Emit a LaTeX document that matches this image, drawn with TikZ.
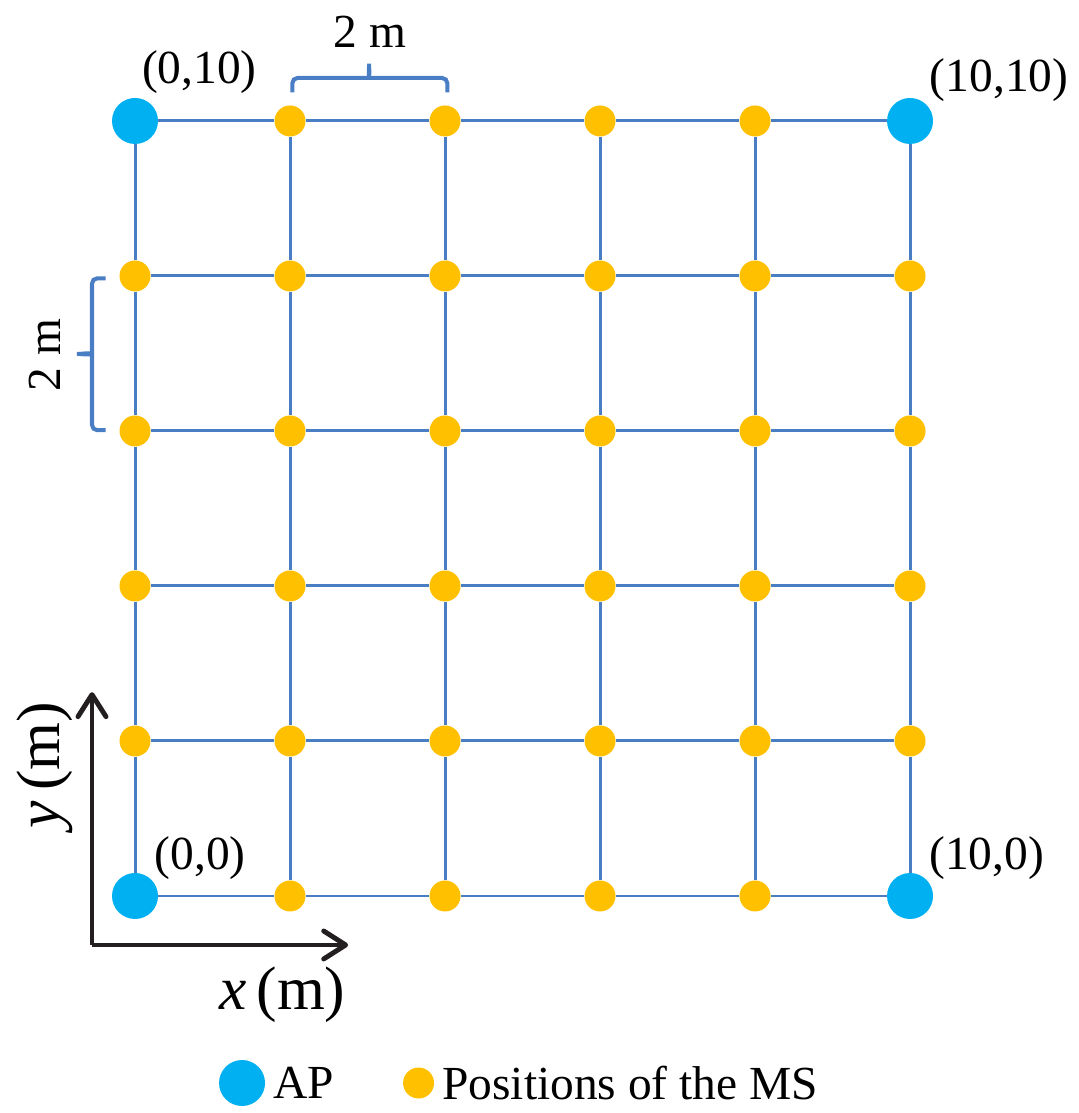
\documentclass[tikz,border=0pt]{standalone}
\usepackage{fontspec}
\setmainfont{Liberation Serif}
\usetikzlibrary{arrows.meta,positioning}
\definecolor{racskek}{HTML}{4A7EC4}
\definecolor{apkek}{HTML}{00B0F0}
\definecolor{mssarga}{HTML}{FFC000}
\definecolor{feketes}{HTML}{231F20}
\tikzset{
  apk/.style={circle,fill=apkek,inner sep=0pt,minimum size=9.2mm},
  msk/.style={circle,fill=mssarga,inner sep=0pt,minimum size=6.2mm},
  racs/.style={racskek,line width=1.7pt},
  kapocs/.style={racskek,line width=2.3pt,rounded corners=3pt},
  tengely/.style={feketes,line width=2.8pt,-{Straight Barb[length=4.4mm,width=5.6mm,round]}},
  cimke/.style={font=\fontsize{27}{32}\selectfont},
  nagy/.style={font=\fontsize{35}{40}\selectfont},
}

\begin{document}
\begin{tikzpicture}[x=1.55cm,y=1.55cm]
  \useasboundingbox (-1.742,-2.8) rectangle (12.168,11.561);
  \foreach \i in {0,...,5}{
    \foreach \j in {0,...,5}{
      \pgfmathtruncatemacro\sarok{and(or(\i==0,\i==5),or(\j==0,\j==5))}
      \ifnum\sarok=1 \def\fajta{apk}\else\def\fajta{msk}\fi
      \node[\fajta] (p\i\j) at (2*\i,2*\j) {};
    }
  }
  \foreach \i in {0,...,5}{
    \foreach \j [evaluate=\j as \k using int(\j+1)] in {0,...,4}{
      \draw[racs] (p\i\j) -- (p\i\k);
      \draw[racs] (p\j\i) -- (p\k\i);
    }
  }
  \node[cimke] (c05) at (0.83,10.63) {(0,10)};
  \node[cimke] (c55) at (11.15,10.53) {(10,10)};
  \node[cimke] (c00) at (0.84,0.49) {(0,0)};
  \node[cimke] (c50) at (10.99,0.49) {(10,0)};
  \draw[kapocs] (2.03,10.37) |- (2.94,10.555) to[out=0,in=-90] (3.02,10.78)
    to[out=-90,in=180] (3.1,10.555) -| (4.03,10.37);
  \node[cimke] (tav1) at (3.03,11.15) {2 m};
  \draw[kapocs] (-0.38,7.97) -| (-0.555,7.07) to[out=-90,in=0] (-0.79,6.994)
    to[out=0,in=90] (-0.555,6.92) |- (-0.38,6.01);
  \node[cimke,rotate=90] (tav2) at (-1.16,6.98) {2 m};
  \coordinate (o) at (-0.555,-0.632);
  \coordinate (xv) at (2.75,-0.632);
  \coordinate (yv) at (-0.555,2.63);
  \draw[tengely] (o) -- (xv);
  \draw[tengely] (o) -- (yv);
  \node[nagy] (xc) at (1.9,-1.28) {\textit{x}\,(m)};
  \node[nagy,rotate=90] (yc) at (-1.16,1.69) {\textit{y}\,(m)};
  \node[apk] (jap) at (1.381,-2.413) {};
  \node[cimke,right=1pt of jap] (japt) {AP};
  \node[msk,right=1.25cm of japt] (jms) {};
  \node[cimke,right=1pt of jms] (jmst) {Positions of the MS};
\end{tikzpicture}
\end{document}
